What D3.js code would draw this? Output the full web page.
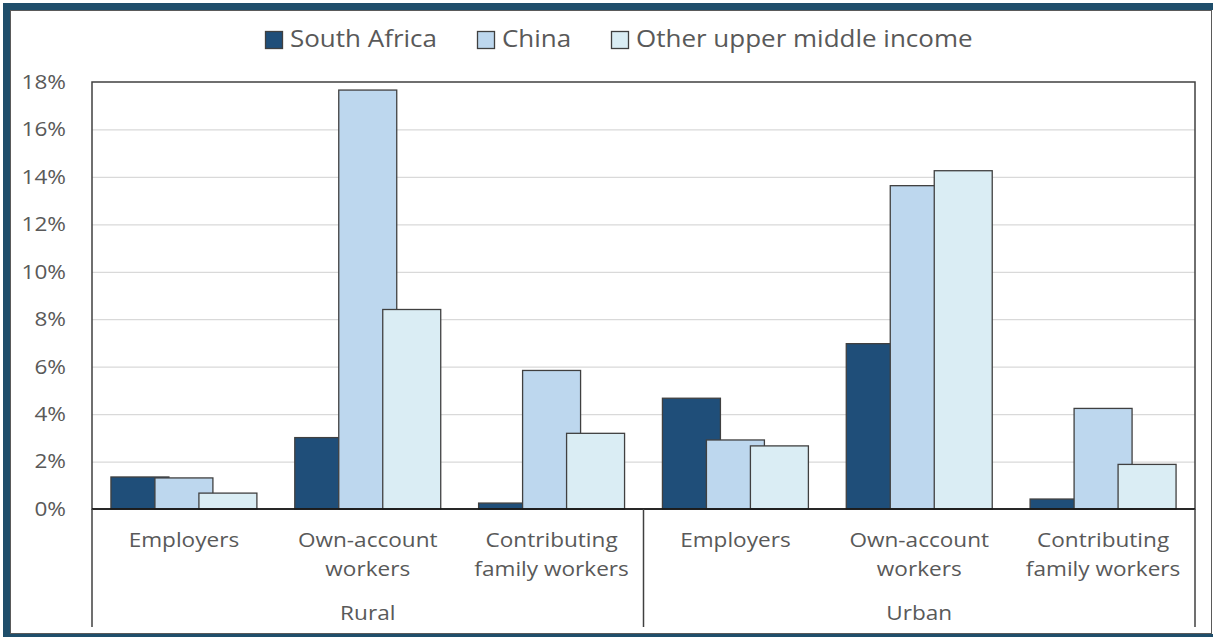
<!DOCTYPE html>
<html>
<head>
<meta charset="utf-8">
<script src="https://cdn.jsdelivr.net/npm/d3@7"></script>
<style>
  html, body { margin: 0; padding: 0; background: #fff; }
  svg { display: block; }
  text { font-family: "Open Sans", "Noto Sans", sans-serif; fill: #595959; }
</style>
</head>
<body>
<svg id="chart" width="1213" height="637"></svg>
<script>
// Share of employment by status, rural vs urban
const areas = ["Rural", "Urban"];
const statuses = ["Employers", "Own-account workers", "Contributing family workers"];
const statusLines = [["Employers"], ["Own-account", "workers"], ["Contributing", "family workers"]];
const seriesNames = ["South Africa", "China", "Other upper middle income"];
const southAfrica = [1.35, 3.01, 0.25, 4.67, 6.97, 0.42];
const china = [1.31, 17.66, 5.84, 2.91, 13.63, 4.24];
const otherUMI = [0.67, 8.41, 3.19, 2.66, 14.26, 1.88];
const yTicks = [0, 2, 4, 6, 8, 10, 12, 14, 16, 18];

const seriesValues = [southAfrica, china, otherUMI];
const colors = ["#1F4E79", "#BDD7EE", "#DAEDF4"];
const textStretch = 1.13; // horizontal widening of all labels

const svg = d3.select("#chart");
const W = 1213, H = 637;
const plot = { left: 92, right: 1195, top: 82, bottom: 509 };

// draws a horizontally widened text label anchored at (x, y)
function label(parent, x, y, str, size, anchor) {
  return parent.append("text")
    .attr("transform", `translate(${x},${y}) scale(${textStretch},1)`)
    .attr("text-anchor", anchor || "middle")
    .attr("font-size", size)
    .text(str);
}

// outer frame
svg.append("rect").attr("x", 6.5).attr("y", 6.5).attr("width", W + 10).attr("height", H - 6)
  .attr("fill", "none").attr("stroke", "#1F4E6B").attr("stroke-width", 7);
svg.append("rect").attr("x", 10.5).attr("y", 10.5).attr("width", 1201).attr("height", 623)
  .attr("fill", "#fff").attr("stroke", "#5a5a5a").attr("stroke-width", 1);

// category keys: area|status
const cats = [];
areas.forEach(a => statuses.forEach(s => cats.push(a + "|" + s)));

const x0 = d3.scaleBand().domain(cats).range([plot.left, plot.right])
  .paddingInner(0.206).paddingOuter(0.103);
const y = d3.scaleLinear().domain([0, 18]).range([plot.bottom, plot.top]);

// gridlines
svg.append("g").selectAll("line").data(yTicks.filter(t => t > 0 && t < 18)).join("line")
  .attr("x1", plot.left).attr("x2", plot.right)
  .attr("y1", d => y(d) + 0.5).attr("y2", d => y(d) + 0.5)
  .attr("stroke", "#d9d9d9").attr("stroke-width", 1.3);

// y axis labels
const yAxis = d3.axisLeft(y).tickValues(yTicks).tickFormat(d => d + "%").tickSize(0).tickPadding(26);
const gy = svg.append("g").attr("transform", `translate(${plot.left},0)`).call(yAxis);
gy.select(".domain").remove();
gy.selectAll("text")
  .attr("font-size", 20)
  .attr("x", -26 / textStretch)
  .attr("transform", `scale(${textStretch},1)`)
  .style("font-family", "\"Open Sans\", sans-serif")
  .attr("fill", "#595959");

// bars: overlapping clustered layout
const bw = x0.bandwidth();
const barW = bw * 58 / 146;
const barStep = bw * 44 / 146;
seriesValues.forEach((vals, si) => {
  svg.append("g").selectAll("rect").data(vals).join("rect")
    .attr("x", (d, i) => x0(cats[i]) + si * barStep)
    .attr("y", d => y(d))
    .attr("width", barW)
    .attr("height", d => y(0) - y(d))
    .attr("fill", colors[si])
    .attr("stroke", "#404040").attr("stroke-width", 1.3);
});

// plot border
svg.append("rect").attr("x", plot.left).attr("y", plot.top)
  .attr("width", plot.right - plot.left).attr("height", plot.bottom - plot.top)
  .attr("fill", "none").attr("stroke", "#404040").attr("stroke-width", 1.5);
svg.append("line").attr("x1", plot.left).attr("x2", plot.right)
  .attr("y1", y(0)).attr("y2", y(0)).attr("stroke", "#111").attr("stroke-width", 1.5);

// multi-level category axis
const sepBottom = 627;
[plot.left, (plot.left + plot.right) / 2, plot.right].forEach(xv => {
  svg.append("line").attr("x1", xv).attr("x2", xv).attr("y1", plot.bottom).attr("y2", sepBottom)
    .attr("stroke", "#404040").attr("stroke-width", 1.5);
});
cats.forEach((c, i) => {
  const cx = x0(c) + bw / 2;
  statusLines[i % 3].forEach((ln, li) => label(svg, cx, 547 + li * 29, ln, 20));
});
areas.forEach((a, ai) => {
  const groupCats = cats.slice(ai * 3, ai * 3 + 3);
  const cx = (x0(groupCats[0]) + x0(groupCats[2]) + bw) / 2;
  label(svg, cx, 620, a, 20);
});

// legend
const legendX = [265, 477, 611];
seriesNames.forEach((n, i) => {
  const g = svg.append("g").attr("transform", `translate(${legendX[i]},31)`);
  g.append("rect").attr("x", 0.5).attr("y", 0.5).attr("width", 17).attr("height", 17)
    .attr("fill", colors[i]).attr("stroke", "#404040").attr("stroke-width", 1.3);
  label(g, 25, 16, n, 23, "start");
});
</script>
</body>
</html>
